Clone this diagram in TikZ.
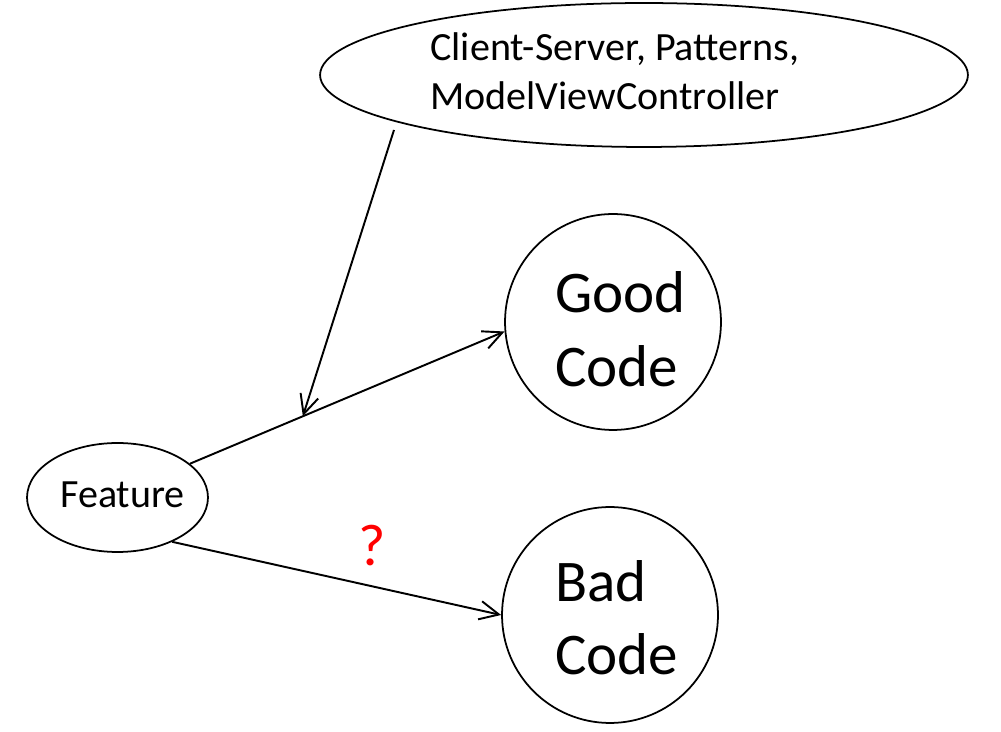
\documentclass[tikz,border=0pt]{standalone}
\usepackage{fontspec}
\setmainfont{Carlito}
\usetikzlibrary{shapes.geometric,arrows.meta,calc}
\begin{document}
\begin{tikzpicture}[x=0.02cm,y=-0.02cm,
  shapeline/.style={draw, line width=1pt, inner sep=0pt},
  lbl/.style={anchor=base west, inner sep=0pt, font=\fontsize{22.8}{27.9}\selectfont},
  big/.style={anchor=base west, inner sep=0pt, font=\fontsize{33.6}{41}\selectfont},
  conn/.style={line width=1.1pt, -{Straight Barb[length=11pt,width=10.5pt]}}]
\useasboundingbox (0,0) rectangle (1001,732);
% nodes
\node[shapeline, ellipse, minimum width=12.96cm, minimum height=2.88cm] (arch) at (644,75) {};
\node[lbl] (archl1) at (430,61) {Client-Server, Patterns,};
\node[lbl] (archl2) at (430,110) {ModelViewController};
\node[shapeline, circle, minimum size=4.32cm] (good) at (613,322) {};
\node[big] (goodl1) at (555,313) {Good};
\node[big] (goodl2) at (555,387) {Code};
\node[shapeline, circle, minimum size=4.32cm] (bad) at (610,615) {};
\node[big] (badl1) at (555,602) {Bad};
\node[big] (badl2) at (555,675) {Code};
\node[shapeline, ellipse, minimum width=3.62cm, minimum height=2.18cm] (feat) at (117.5,497.5) {};
\node[lbl] (featl) at (60,508) {Feature};
\node[anchor=base, inner sep=0pt, text=red, font=\fontsize{33.6}{41}\selectfont] (q) at (372,566) {?};
% connectors
\draw[conn] (feat.25) -- (good.185);
\coordinate (mid) at ($(feat.25)!0.359!(good.185)$);
\coordinate (archfoot) at (394,130);
\draw[conn] (archfoot) -- (mid);
\draw[conn] (feat.-39) -- (bad.180);
\end{tikzpicture}
\end{document}
